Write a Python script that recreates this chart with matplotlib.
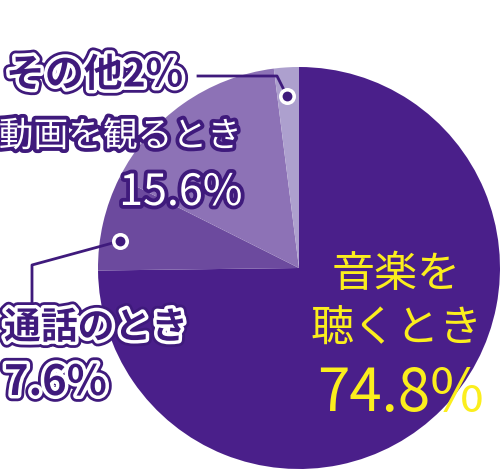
import matplotlib
matplotlib.use("Agg")
import matplotlib.pyplot as plt
import matplotlib.patheffects as pe

plt.rcParams['font.family'] = ['Noto Sans CJK JP', 'DejaVu Sans']

# data (clockwise from 12 o'clock)
labels = ['音楽を聴くとき', '通話のとき', '動画を観るとき', 'その他']
values = [74.8, 7.6, 15.6, 2.0]
colors = ['#4a1f8a', '#6c4a9e', '#8d72b6', '#ada0ce']

W, H = 500, 469
PURPLE = '#3f1a7c'
YELLOW = '#fbee1d'

fig = plt.figure(figsize=(W / 100, H / 100), dpi=100)
ax = fig.add_axes([0, 0, 1, 1])

# pie in pixel space (y flipped so image y goes down)
cx, cy, r = 299, 268, 201
ax.pie(values, colors=colors, startangle=90, counterclock=False,
       center=(cx, H - cy), radius=r, frame=True,
       wedgeprops=dict(linewidth=0))
ax.set_xlim(0, W)
ax.set_ylim(0, H)
ax.axis('off')


def y(v):
    return H - v


# purple text with white + purple double outline
double = [pe.Stroke(linewidth=9, foreground=PURPLE),
          pe.Stroke(linewidth=5, foreground='white'), pe.Normal()]
# white text with purple outline
single = [pe.Stroke(linewidth=5.5, foreground=PURPLE), pe.Normal()]

# leader lines
ax.plot([198, 277, 287], [y(76), y(76), y(96)], color=PURPLE, lw=2, zorder=3)
ax.plot([120, 32, 32], [y(241), y(265), y(303)], color=PURPLE, lw=2, zorder=3)
for px, py in [(287, 96), (120, 241)]:
    ax.scatter([px], [y(py)], s=150, color='white', zorder=4, linewidths=0)
    ax.scatter([px], [y(py)], s=50, color=PURPLE, zorder=5, linewidths=0)

# その他
ax.text(6, y(75), f'その他{values[3]:.0f}%', fontsize=28, fontweight='bold',
        color=PURPLE, ha='left', va='center', path_effects=double, zorder=6)

# 動画
ax.text(242, y(137), labels[2], fontsize=25, color='white',
        ha='right', va='center', path_effects=single, zorder=6)
ax.text(242, y(193), f'{values[2]}%', fontsize=31, color='white',
        ha='right', va='center', path_effects=single, zorder=6)

# 通話
ax.text(4, y(328), labels[1], fontsize=26.5, fontweight='bold',
        color=PURPLE, ha='left', va='center', path_effects=double, zorder=6)
ax.text(4, y(383), f'{values[1]}%', fontsize=30, fontweight='bold',
        color=PURPLE, ha='left', va='center', path_effects=double, zorder=6)

# 音楽
ax.text(396, y(275), '音楽を', fontsize=31, color=YELLOW,
        ha='center', va='center', zorder=6)
ax.text(397, y(330), '聴くとき', fontsize=31, color=YELLOW,
        ha='center', va='center', zorder=6)
ax.text(401, y(395), f'{values[0]}%', fontsize=42, color=YELLOW,
        ha='center', va='center', zorder=6)

fig.savefig('out.png', dpi=100)
